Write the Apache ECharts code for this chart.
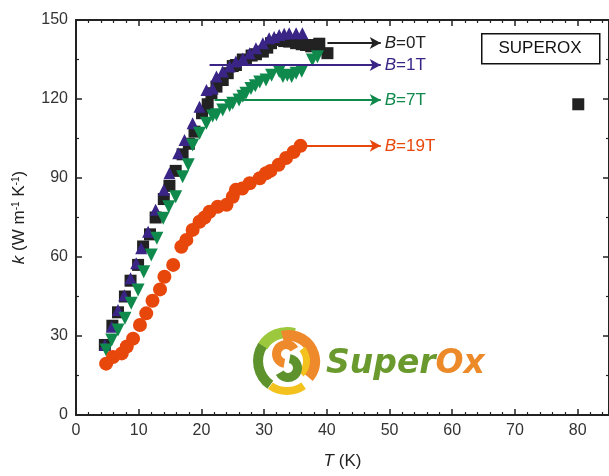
<!DOCTYPE html>
<html>
<head>
<meta charset="utf-8">
<script src="https://cdn.jsdelivr.net/npm/echarts@6/dist/echarts.min.js"></script>
<style>
html, body { margin: 0; padding: 0; background: #fff; }
#main { width: 609px; height: 476px; }
</style>
</head>
<body>
<div id="main"></div>
<script>
// B = 0T, black squares
var t0 = [4.6, 5.8, 6.7, 7.8, 8.7, 9.9, 10.7, 11.8, 12.7, 14.0, 14.9, 15.9, 17.0, 18.0, 18.9, 20.1, 21.0, 21.6, 22.4, 23.4, 24.2, 25.0, 25.5, 26.6, 27.1, 28.0, 28.7, 29.8, 30.5, 31.1, 32.4, 33.2, 34.0, 35.1, 36.0, 36.7, 37.5, 38.3, 38.8, 40.1, 80.1];
var k0 = [26.6, 33.9, 39, 45, 51, 57, 64, 68.6, 75, 82, 87, 92.7, 99, 103, 107.6, 114.6, 118, 122.2, 124.7, 127.2, 129.8, 132.5, 132.9, 135, 134.8, 136.5, 137, 138, 139.5, 141.2, 142.4, 142, 141.8, 141.2, 140.8, 140.5, 140, 140.5, 141, 137.4, 118];
// B = 1T, purple triangles
var t1 = [4.6, 5.7, 6.7, 7.7, 8.7, 9.6, 10.4, 11.5, 12.7, 14.0, 14.9, 16.3, 17.3, 18.6, 19.7, 20.8, 21.8, 22.4, 23.4, 24.5, 25.5, 26.6, 27.7, 28.7, 29.8, 30.8, 31.6, 32.4, 33.2, 34.0, 35.1, 36.1];
var k1 = [26.6, 33.5, 39.9, 45.5, 51.9, 57.6, 63.3, 69.6, 77.9, 85.5, 91.8, 99.4, 104.4, 110.8, 117.1, 123.4, 124, 128.5, 130.4, 132.3, 134.2, 135.4, 137.4, 139.3, 141.2, 143.1, 143.5, 144.3, 144.8, 145, 145, 145];
// B = 7T, green down triangles
var t7 = [4.8, 5.7, 6.7, 7.8, 8.8, 9.9, 10.8, 12.0, 12.9, 13.9, 14.8, 15.9, 17.0, 17.9, 18.6, 19.7, 20.8, 21.8, 22.4, 23.4, 24.5, 25.0, 26.0, 26.6, 27.1, 27.9, 28.6, 29.3, 30.3, 31.2, 32.4, 33.0, 33.7, 34.4, 35.1, 36.0, 37.7, 38.5];
var k7 = [24.7, 28.5, 32.3, 36.7, 42.4, 47.5, 54.4, 60.8, 67.1, 74.7, 79.1, 82.9, 90.5, 95, 102.5, 107, 110.8, 113.5, 114, 115.8, 117.5, 118.4, 119.6, 121, 122.2, 124, 125, 126.5, 127.2, 129, 130.4, 128.5, 129, 128.5, 129.8, 130.5, 134.8, 136];
// B = 19T, orange circles
var t19 = [4.8, 5.9, 7.3, 8.1, 9.1, 10.2, 11.2, 12.2, 13.4, 14.1, 15.5, 16.8, 17.6, 18.6, 19.7, 20.5, 21.3, 22.6, 24.0, 25.0, 25.5, 26.5, 27.7, 29.3, 30.3, 31.0, 32.3, 33.5, 34.7, 35.8];
var k19 = [19.5, 22, 23.4, 26, 29, 34.2, 38.6, 43.4, 47.7, 52.5, 57, 63.9, 66.5, 70.3, 73.4, 75, 77.2, 79.1, 79.8, 82.9, 85.5, 86, 88, 89.9, 91.8, 92.7, 95, 97.6, 99.9, 102.2];

var fieldNames = ['0T', '1T', '7T', '19T'];
// arrow: [from T, to T, k]
var arrows = [[40.1, 48.6, 141.3], [21.3, 48.6, 132.9], [22.1, 48.6, 119.6], [35.6, 48.6, 102.2]];
var colors = ['#222222', '#3a2587', '#0f8a4c', '#e8470c'];

function pairs(t, k) {
    let d = [];
    for (let i = 0; i < t.length; ++i) d.push([t[i], k[i]]);
    return d;
}

function arrowLine(i) {
    let a = arrows[i];
    return {
        silent: true,
        symbol: ['none', 'arrow'],
        symbolSize: [9, 11],
        lineStyle: { color: colors[i], width: 2, type: 'solid' },
        label: {
            show: true,
            position: 'end',
            distance: 4,
            formatter: '{i|B}{n|=' + fieldNames[i] + '}',
            rich: {
                i: { fontStyle: 'italic', fontSize: 17, color: colors[i], fontFamily: 'Liberation Sans' },
                n: { fontSize: 17, color: colors[i], fontFamily: 'Liberation Sans' }
            }
        },
        data: [[{ coord: [a[0], a[2]] }, { coord: [a[1], a[2]] }]]
    };
}

var axisCommon = {
    type: 'value',
    splitLine: { show: false },
    axisLine: { show: true, onZero: false, lineStyle: { color: '#222', width: 2 } },
    axisTick: { show: true, inside: true, length: 6, lineStyle: { color: '#222', width: 1.5 } },
    minorTick: { show: true, length: 3, lineStyle: { color: '#222', width: 1.2 } },
    minorSplitLine: { show: false }
};

// logo ring pieces: [cx, cy, r0, r, start deg, end deg, colour]
var logoArcs = [
    [287, 361, 23, 34, 210, 285, '#9cc83e'],
    [287, 361, 24, 34, 125, 212, '#5d922c'],
    [289, 361, 20, 31, 255, 400, '#ee8a2c'],
    [287, 362, 25, 33, 55, 125, '#f4c21e'],
    [288, 361, 15, 22, -40, 45, '#f4c21e'],
    [286, 354, 5, 14, 100, 330, '#ee8a2c'],
    [288, 368, 5, 14, -80, 150, '#5d922c']
];

var graphics = [
    {
        type: 'rect', left: 481, top: 33,
        shape: { width: 118, height: 30 },
        style: { fill: '#fff', stroke: '#111', lineWidth: 1.5 }
    },
    {
        type: 'text', x: 540, y: 48,
        style: { text: 'SUPEROX', fontSize: 17, fontFamily: 'Liberation Sans', fill: '#111', align: 'center', verticalAlign: 'middle' }
    },
    {
        type: 'text', x: 326, y: 364,
        style: {
            text: '{g|Super}{o|Ox}',
            verticalAlign: 'middle',
            rich: {
                g: { fontSize: 33, fontWeight: 'bold', fontStyle: 'italic', fontFamily: 'DejaVu Sans', fill: '#6a9a2e' },
                o: { fontSize: 33, fontWeight: 'bold', fontStyle: 'italic', fontFamily: 'DejaVu Sans', fill: '#ec8a2a' }
            }
        }
    }
];
logoArcs.forEach(function(a) {
    graphics.push({
        type: 'sector',
        shape: { cx: a[0], cy: a[1], r0: a[2], r: a[3], startAngle: a[4] * Math.PI / 180, endAngle: a[5] * Math.PI / 180, clockwise: true },
        style: { fill: a[6] }
    });
});

var chart = echarts.init(document.getElementById('main'));
chart.setOption({
    animation: false,
    grid: { left: 76, top: 20, width: 536, height: 395 },
    xAxis: [
        Object.assign({}, axisCommon, {
            min: 0, max: 85, interval: 10,
            minorTick: Object.assign({}, axisCommon.minorTick, { splitNumber: 5 }),
            axisLabel: { fontSize: 16, color: '#333', fontFamily: 'Liberation Sans', margin: 8, showMaxLabel: false },
            name: '{i|T} (K)',
            nameLocation: 'middle',
            nameGap: 38,
            nameTextStyle: {
                fontSize: 17, color: '#222', fontFamily: 'Liberation Sans',
                rich: { i: { fontStyle: 'italic', fontSize: 17, color: '#222', fontFamily: 'Liberation Sans' } }
            }
        }),
        Object.assign({}, axisCommon, {
            position: 'top', min: 0, max: 85, interval: 10,
            minorTick: Object.assign({}, axisCommon.minorTick, { splitNumber: 5 }),
            axisLabel: { show: false }
        })
    ],
    yAxis: [
        Object.assign({}, axisCommon, {
            min: 0, max: 150, interval: 30,
            minorTick: Object.assign({}, axisCommon.minorTick, { splitNumber: 2 }),
            axisLabel: { fontSize: 16, color: '#333', fontFamily: 'Liberation Sans', margin: 8 },
            name: '{i|k} (W m{s|-1} K{s|-1})',
            nameLocation: 'middle',
            nameGap: 48,
            nameRotate: 90,
            nameTextStyle: {
                fontSize: 17, color: '#222', fontFamily: 'Liberation Sans',
                rich: {
                    i: { fontStyle: 'italic', fontSize: 17, color: '#222', fontFamily: 'Liberation Sans' },
                    s: { fontSize: 10, color: '#222', fontFamily: 'Liberation Sans', verticalAlign: 'top' }
                }
            }
        }),
        Object.assign({}, axisCommon, {
            position: 'right', min: 0, max: 150, interval: 30,
            minorTick: Object.assign({}, axisCommon.minorTick, { splitNumber: 2 }),
            axisLabel: { show: false }
        })
    ],
    series: [
        {
            type: 'scatter', symbol: 'rect', symbolSize: 12,
            itemStyle: { color: colors[0], opacity: 1 },
            data: pairs(t0, k0),
            markLine: arrowLine(0)
        },
        {
            type: 'scatter', symbol: 'triangle', symbolSize: 12,
            itemStyle: { color: colors[1], opacity: 1 },
            data: pairs(t1, k1),
            markLine: arrowLine(1)
        },
        {
            type: 'scatter', symbol: 'triangle', symbolSize: 13, symbolRotate: 180,
            itemStyle: { color: colors[2], opacity: 1 },
            data: pairs(t7, k7),
            markLine: arrowLine(2)
        },
        {
            type: 'scatter', symbol: 'circle', symbolSize: 14,
            itemStyle: { color: colors[3], opacity: 1 },
            data: pairs(t19, k19),
            markLine: arrowLine(3)
        }
    ],
    graphic: graphics
});
</script>
</body>
</html>
